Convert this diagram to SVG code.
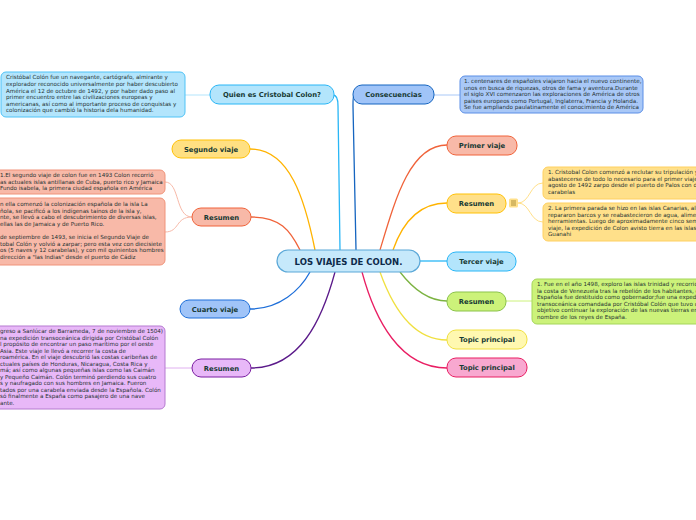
<svg xmlns="http://www.w3.org/2000/svg" width="696" height="520" viewBox="0 0 696 520">
<style>
.n{font-family:"DejaVu Sans",Verdana,sans-serif;font-weight:bold;font-size:6.8px;fill:#173a34;text-anchor:middle}
.c{font-family:"DejaVu Sans",Verdana,sans-serif;font-weight:bold;font-size:8.5px;fill:#0d2a4a;text-anchor:middle}
.t{font-family:"DejaVu Sans",Verdana,sans-serif;font-size:5.6px;fill:#263232}
.k{fill:none;stroke-width:1.3}
.s{fill:none;stroke-width:1}
</style>
<rect width="696" height="520" fill="#ffffff"/>
<g id="connectors">
<path class="k" stroke="#29b6f6" d="M333,95 Q338,95 338,106 L340,250"/>
<path class="k" stroke="#1565c0" d="M354,95 Q353,95 353,106 L356,250"/>
<path class="k" stroke="#ffb300" d="M250,149 C290,149 305,200 315,250"/>
<path class="k" stroke="#f0633a" d="M251,217 C280,217 290,230 300,250"/>
<path class="k" stroke="#1e6fd9" d="M250,309 C280,309 300,290 310,272"/>
<path class="k" stroke="#5b1a8a" d="M251,368 C300,368 322,320 335,272"/>
<path class="k" stroke="#f0633a" d="M447,145 C410,145 395,200 380,250"/>
<path class="k" stroke="#ffb300" d="M447,203 C415,203 400,230 393,250"/>
<path class="k" stroke="#29b6f6" d="M420,261 L447,261"/>
<path class="k" stroke="#7cb342" d="M447,301 C425,301 410,285 400,272"/>
<path class="k" stroke="#f0e040" d="M447,340 C410,340 390,300 380,272"/>
<path class="k" stroke="#e91e63" d="M447,368 C400,368 375,320 362,272"/>
<path class="s" stroke="#b3e5fc" d="M185,95 L210,95"/>
<path class="s" stroke="#a9c8f7" d="M434,95 L460,95"/>
<path class="s" stroke="#f8b9a8" d="M192,217 C175,217 180,182 165,182 M192,217 C175,217 180,232 165,232"/>
<path class="s" stroke="#ffe08a" d="M518,203 C530,203 530,183 543,183 M518,203 C530,203 530,222 543,222"/>
<path class="s" stroke="#ccf27a" d="M506,301 L532,301"/>
<path class="s" stroke="#e0b0f0" d="M192,368 L165,368"/>
</g>
<g id="center"><rect x="277" y="250" width="143" height="22" rx="11" fill="#c6e9fb" stroke="#5ba8d8" stroke-width="1.2"/><text class="c" x="348.5" y="264.5">LOS VIAJES DE COLON.</text></g>
<g id="quien"><rect x="210" y="85" width="124" height="19" rx="9" fill="#b3e5fc" stroke="#29b6f6"/><text class="n" x="272" y="97">Quien es Cristobal Colon?</text></g>
<g id="quien-info"><rect x="1" y="72" width="184" height="45" rx="5" fill="#b3e5fc" stroke="#4fc3f7"/>
<text class="t"><tspan x="6" y="79">Cristóbal Colón fue un navegante, cartógrafo, almirante y</tspan><tspan x="6" y="86">explorador reconocido universalmente por haber descubierto</tspan><tspan x="6" y="92.5">América el 12 de octubre de 1492, y por haber dado paso al</tspan><tspan x="6" y="99">primer encuentro entre las civilizaciones europeas y</tspan><tspan x="6" y="105.5">americanas, así como al importante proceso de conquistas y</tspan><tspan x="6" y="112">colonización que cambió la historia dela humanidad.</tspan></text></g>
<g id="consecuencias"><rect x="353" y="85" width="81" height="19" rx="9" fill="#a0c4f8" stroke="#1565c0"/><text class="n" x="393.5" y="97">Consecuencias</text></g>
<g id="consecuencias-info"><rect x="460" y="76" width="183" height="37" rx="5" fill="#a9c8f7" stroke="#5b8ee6"/>
<text class="t"><tspan x="464" y="83">1. centenares de españoles viajaron hacia el nuevo continente,</tspan><tspan x="464" y="89.5">unos en busca de riquezas, otros de fama y aventura.Durante</tspan><tspan x="464" y="96">el siglo XVI comenzaron las exploraciones de América de otros</tspan><tspan x="464" y="102.5">paises europeos como Portugal, Inglaterra, Francia y Holanda.</tspan><tspan x="464" y="109">Se fue ampliando paulatinamente el conocimiento de América</tspan></text></g>
<g id="segundo"><rect x="172" y="140" width="78" height="18" rx="9" fill="#ffe082" stroke="#ffc107"/><text class="n" x="211" y="151.5">Segundo viaje</text></g>
<g id="resumen-2"><rect x="192" y="208" width="59" height="18" rx="9" fill="#f8b9a8" stroke="#f0633a"/><text class="n" x="221.5" y="219.5">Resumen</text></g>
<g id="resumen-2-a"><rect x="-6" y="170" width="171" height="24" rx="5" fill="#f8b9a8" stroke="#f0937a"/>
<text class="t"><tspan x="0" y="177">1.El segundo viaje de colon fue en 1493 Colon recorrió</tspan><tspan x="0" y="183.5">as actuales islas antillanas de Cuba, puerto rico y Jamaica</tspan><tspan x="0" y="190">Fundo isabela, la primera ciudad española en América</tspan></text></g>
<g id="resumen-2-b"><rect x="-6" y="198" width="171" height="67" rx="5" fill="#f8b9a8" stroke="#f0937a"/>
<text class="t"><tspan x="0" y="206">n ella comenzó la colonización española de la isla La</tspan><tspan x="0" y="212.5">ñola, se pacificó a los indígenas taínos de la isla y,</tspan><tspan x="0" y="219">nte, se llevó a cabo el descubrimiento de diversas islas,</tspan><tspan x="0" y="225.5">ellas las de Jamaica y de Puerto Rico.</tspan><tspan x="0" y="239">de septiembre de 1493, se inicia el Segundo Viaje de</tspan><tspan x="0" y="245.5">tobal Colón y volvió a zarpar; pero esta vez con diecisiete</tspan><tspan x="0" y="252">os (5 naves y 12 carabelas), y con mil quinientos hombres</tspan><tspan x="0" y="258.5">dirección a "las Indias" desde el puerto de Cádiz</tspan></text></g>
<g id="cuarto"><rect x="180" y="300" width="70" height="18" rx="9" fill="#a0c4f8" stroke="#1e6fd9"/><text class="n" x="215" y="311.5">Cuarto viaje</text></g>
<g id="resumen-4"><rect x="192" y="359" width="59" height="18" rx="9" fill="#e8b8f8" stroke="#7b1fa2"/><text class="n" x="221.5" y="370.5">Resumen</text></g>
<g id="resumen-4-a"><rect x="-6" y="326" width="171" height="83" rx="5" fill="#e8b8f8" stroke="#b57ad0"/>
<text class="t"><tspan x="0" y="333">greso a Sanlúcar de Barrameda, 7 de noviembre de 1504)</tspan><tspan x="0" y="339.5">na expedición transoceánica dirigida por Cristóbal Colón</tspan><tspan x="0" y="346">l propósito de encontrar un paso marítimo por el oeste</tspan><tspan x="0" y="352.5">Asia. Este viaje le llevó a recorrer la costa de</tspan><tspan x="0" y="359">roamérica. En el viaje descubrió las costas caribeñas de</tspan><tspan x="0" y="365.5">ctuales países de Honduras, Nicaragua, Costa Rica y</tspan><tspan x="0" y="372">má; así como algunas pequeñas islas como las Caimán</tspan><tspan x="0" y="378.5">y Pequeño Caimán. Colón terminó perdiendo sus cuatro</tspan><tspan x="0" y="385">s y naufragado con sus hombres en Jamaica. Fueron</tspan><tspan x="0" y="391.5">tados por una carabela enviada desde la Española. Colón</tspan><tspan x="0" y="398">só finalmente a España como pasajero de una nave</tspan><tspan x="0" y="404.5">ante.</tspan></text></g>
<g id="primer"><rect x="447" y="136" width="70" height="19" rx="9" fill="#f8b9a8" stroke="#f0633a"/><text class="n" x="482" y="148">Primer viaje</text></g>
<g id="resumen-1"><rect x="447" y="194" width="59" height="19" rx="9" fill="#ffe08a" stroke="#ffc107"/><text class="n" x="476.5" y="206">Resumen</text>
<rect x="509" y="198.5" width="9" height="9" rx="1.5" fill="#ffe08a"/><path d="M511,201 H516 M511,203 H516 M511,205 H516" stroke="#8a6d1a" stroke-width="0.7"/></g>
<g id="resumen-1-a"><rect x="543" y="167" width="160" height="32" rx="5" fill="#ffe08a" stroke="#ffd060"/>
<text class="t"><tspan x="548" y="174">1. Cristobal Colon comenzó a reclutar su tripulación y</tspan><tspan x="548" y="180.5">abastecerse de todo lo necesario para el primer viaje.</tspan><tspan x="548" y="187">agosto de 1492 zarpo desde el puerto de Palos con de</tspan><tspan x="548" y="193.5">carabelas</tspan></text></g>
<g id="resumen-1-b"><rect x="543" y="203" width="160" height="38" rx="5" fill="#ffe08a" stroke="#ffd060"/>
<text class="t"><tspan x="548" y="210">2. La primera parada se hizo en las islas Canarias, all</tspan><tspan x="548" y="216.5">repararon barcos y se reabastecieron de agua, alimen</tspan><tspan x="548" y="223">herramientas. Luego de aproximadamente cinco sema</tspan><tspan x="548" y="229.5">viaje, la expedición de Colon avisto tierra en las islas</tspan><tspan x="548" y="236">Guanahi</tspan></text></g>
<g id="tercer"><rect x="447" y="252" width="69" height="19" rx="9" fill="#b3e5fc" stroke="#29b6f6"/><text class="n" x="481.5" y="264">Tercer viaje</text></g>
<g id="resumen-3"><rect x="447" y="292" width="59" height="19" rx="9" fill="#ccf27a" stroke="#8bc34a"/><text class="n" x="476.5" y="304">Resumen</text></g>
<g id="resumen-3-a"><rect x="532" y="279" width="170" height="45" rx="5" fill="#ccf27a" stroke="#a5d65a"/>
<text class="t"><tspan x="537" y="286">1. Fue en el año 1498, exploro las islas trinidad y recorrió</tspan><tspan x="537" y="292.5">la costa de Venezuela tras la rebelión de los habitantes, d</tspan><tspan x="537" y="299">Española fue destituido como gobernador;fue una expedic</tspan><tspan x="537" y="305.5">transoceánica comandada por Cristóbal Colón que tuvo co</tspan><tspan x="537" y="312">objetivo continuar la exploración de las nuevas tierras en</tspan><tspan x="537" y="318.5">nombre de los reyes de España.</tspan></text></g>
<g id="topic-1"><rect x="447" y="330" width="80" height="19" rx="9" fill="#fff8b0" stroke="#f0e040"/><text class="n" x="487" y="342">Topic principal</text></g>
<g id="topic-2"><rect x="447" y="358" width="80" height="19" rx="9" fill="#f8a8d0" stroke="#e91e63"/><text class="n" x="487" y="370">Topic principal</text></g>
</svg>
